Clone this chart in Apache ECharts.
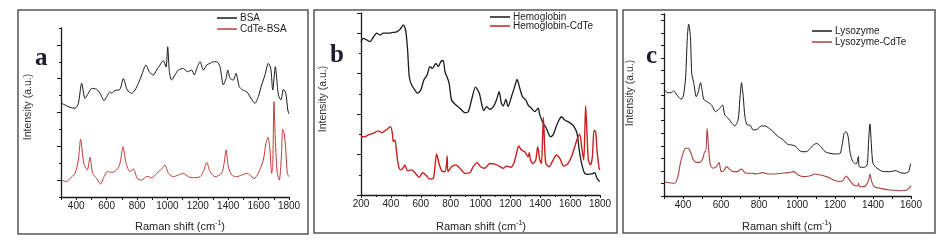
<!DOCTYPE html>
<html>
<head>
<meta charset="utf-8">
<script src="https://cdn.jsdelivr.net/npm/echarts@6/dist/echarts.min.js"></script>
<style>
html,body{margin:0;padding:0;background:#fff;}
#chart{width:944px;height:251px;}
</style>
</head>
<body>
<div id="chart"></div>
<script>
// ---------- Panel a: BSA ----------
const bsaShift = [305,359,392,414,436,458,480,502,535,557,583,601,622,633,655,688,710,736,765,787,809,831,859,881,907,929,951,973,991,1002,1013,1028,1050,1072,1105,1131,1160,1177,1193,1215,1237,1259,1281,1302,1325,1346,1368,1386,1397,1412,1434,1451,1473,1495,1522,1550,1576,1598,1620,1642,1664,1680,1693,1710,1730,1747,1763,1779,1792,1800];
const bsaIntensity = [5.54,5.31,5.25,5.54,6.73,5.84,6.14,6.43,6.37,6.14,5.70,5.94,6.23,6.14,6.30,6.37,7.02,6.33,6.14,6.33,6.73,7.22,7.81,7.41,7.22,7.51,7.81,8.07,7.69,8.89,7.41,6.92,7.22,7.51,7.61,7.41,7.51,7.22,7.61,8.00,7.51,7.81,7.91,8.00,8.00,7.71,6.63,7.02,7.51,7.02,6.92,7.32,6.53,6.33,6.23,5.84,5.54,5.94,6.63,7.22,7.91,7.61,6.33,7.71,6.04,5.74,6.37,6.14,5.15,4.91];
const cdteBsaShift = [305,338,359,392,414,429,450,473,491,508,535,561,583,605,633,666,688,708,728,754,776,802,831,864,897,929,962,984,1006,1039,1072,1105,1138,1171,1215,1241,1259,1281,1314,1357,1373,1386,1401,1423,1456,1489,1522,1544,1570,1598,1631,1648,1662,1675,1686,1693,1701,1710,1723,1736,1750,1758,1769,1780,1789,1800];
const cdteBsaIntensity = [1.00,0.91,1.09,1.40,2.19,3.41,1.99,1.60,2.35,1.40,1.09,0.77,1.20,1.50,1.46,1.60,1.99,2.98,1.99,1.50,1.66,1.09,1.00,1.22,1.14,1.40,1.66,1.89,1.40,1.20,1.30,1.40,1.20,1.14,1.20,1.60,2.05,1.50,1.20,1.40,1.99,2.78,1.79,1.30,1.20,1.30,1.40,1.30,1.09,1.40,2.19,3.17,3.53,2.78,1.40,1.79,5.64,3.37,1.40,1.00,2.40,4.00,3.76,2.60,1.40,1.20];

// ---------- Panel b: Hemoglobin ----------
const hbShift = [200,216,238,260,282,305,327,349,383,416,439,461,483,499,512,523,539,561,579,600,621,643,661,679,701,717,735,750,762,777,790,806,828,862,895,918,940,967,992,1007,1022,1040,1062,1089,1107,1125,1140,1152,1170,1185,1207,1229,1245,1263,1281,1303,1319,1341,1363,1386,1397,1419,1441,1468,1486,1508,1526,1542,1564,1597,1624,1646,1664,1682,1698,1720,1743,1765,1780,1798];
const hbIntensity = [7.58,7.75,7.67,7.58,7.80,8.00,7.91,8.00,8.00,8.04,8.07,8.19,8.41,8.14,7.17,5.85,5.44,5.19,5.03,5.19,5.69,5.93,6.35,6.26,6.51,6.35,6.60,6.65,6.10,5.82,5.52,4.70,4.50,4.29,4.07,4.12,4.70,5.33,5.03,4.53,4.17,4.37,4.24,4.40,4.70,5.11,4.53,4.40,4.73,4.37,4.86,5.36,5.72,5.28,4.86,4.70,4.45,4.29,4.12,4.29,3.96,3.55,3.30,2.88,2.97,3.41,3.71,3.87,3.71,3.58,3.41,3.05,2.06,1.40,1.07,1.02,1.04,1.10,0.82,0.66];
const hbCdteShift = [200,227,249,282,316,338,360,383,398,410,416,427,439,450,465,483,494,512,539,568,590,612,634,661,684,695,706,722,740,762,773,777,782,806,835,862,895,929,951,978,1000,1029,1062,1096,1125,1152,1174,1201,1223,1241,1256,1274,1296,1319,1326,1335,1352,1370,1383,1397,1408,1415,1421,1428,1437,1459,1486,1508,1531,1557,1586,1609,1631,1649,1664,1680,1691,1698,1704,1713,1722,1736,1749,1760,1771,1780,1794,1800];
const hbCdteIntensity = [2.88,2.88,2.97,3.05,3.17,3.08,3.17,3.30,3.38,3.05,2.64,2.72,2.06,1.48,1.24,1.35,1.48,1.20,1.24,1.04,0.87,1.10,0.99,0.79,0.82,1.40,2.03,1.56,1.20,1.15,1.56,1.93,1.15,1.40,1.48,1.32,1.07,1.10,1.40,1.60,1.40,1.32,1.56,1.53,1.43,1.32,1.43,1.37,1.56,2.06,2.42,2.22,2.14,1.89,2.09,1.73,1.56,1.73,2.39,1.73,1.56,2.72,3.84,2.72,1.56,1.40,1.73,1.98,1.81,1.43,1.56,1.89,2.39,2.80,3.01,2.22,1.73,3.05,4.40,3.05,1.73,1.48,1.89,3.21,3.13,2.22,1.32,1.24];

// ---------- Panel c: Lysozyme ----------
const lysShift = [303,321,338,351,368,391,403,414,423,430,439,446,457,470,481,492,502,509,527,550,572,593,608,620,638,655,673,690,699,708,717,726,738,752,769,790,813,831,854,879,901,928,949,972,990,1007,1025,1048,1065,1086,1104,1125,1148,1174,1195,1209,1227,1239,1248,1259,1269,1280,1294,1312,1323,1328,1351,1369,1377,1384,1391,1400,1421,1456,1491,1518,1544,1570,1588,1597,1600];
const lysIntensity = [8.45,8.23,8.23,8.37,8.05,7.70,8.05,9.51,12.7,13.7,12.7,9.77,8.98,7.91,8.31,9.03,8.31,7.70,7.51,7.25,6.72,6.98,7.25,6.45,6.19,5.84,5.58,6.06,7.65,9.03,7.91,6.32,5.66,5.66,5.26,5.31,5.58,5.58,5.39,5.05,4.73,4.46,4.14,4.06,3.98,3.72,3.53,3.53,3.72,4.06,4.19,3.93,3.53,3.40,3.35,3.35,3.40,4.19,4.99,5.12,4.73,3.40,2.74,2.55,3.14,2.34,2.28,2.47,4.46,5.74,4.19,2.60,2.21,1.94,1.94,2.02,1.86,1.81,1.94,2.55,2.60];
const lysCdteShift = [303,329,356,373,386,400,414,426,439,453,470,488,505,514,520,527,534,544,559,576,590,601,615,629,647,664,685,708,731,761,787,819,849,884,919,954,984,1007,1033,1065,1095,1125,1157,1192,1227,1244,1259,1276,1298,1319,1324,1330,1360,1377,1384,1393,1407,1439,1491,1544,1579,1600];
const lysCdteIntensity = [1.14,1.06,1.01,1.54,2.60,3.40,3.80,3.80,3.53,2.92,2.68,2.68,3.00,3.53,3.53,5.39,3.93,2.47,2.21,2.34,2.66,1.94,2.02,2.34,2.12,1.94,1.94,2.15,1.81,1.81,1.75,1.86,1.75,1.75,1.81,1.86,1.94,1.67,1.54,1.59,1.75,1.67,1.54,1.28,1.14,1.28,1.59,1.28,0.88,0.80,1.01,0.74,0.80,1.28,1.75,1.14,0.74,0.61,0.48,0.42,0.48,0.80];

const xTicksA = [400,600,800,1000,1200,1400,1600,1800];
const xTicksB = [200,400,600,800,1000,1200,1400,1600,1800];
const xTicksC = [400,600,800,1000,1200,1400,1600];

const legendA = ['BSA','CdTe-BSA'];
const legendB = ['Hemoglobin','Hemoglobin-CdTe'];
const legendC = ['Lysozyme','Lysozyme-CdTe'];

function zip(xs, ys){ return xs.map((x,i)=>[x, ys[i]]); }

const FONT = 'Liberation Sans, Arial, sans-serif';
const AX = '#1a1a1a';

function xAxisDef(gi, min, max, interval, labelSet, minor){
  return {
    type:'value', gridIndex:gi, min:min, max:max, interval:interval,
    axisLine:{show:true, onZero:false, lineStyle:{color:AX, width:1.3}},
    axisTick:{show:true, length:3, lineStyle:{color:AX, width:1}},
    minorTick:{show:!!minor, splitNumber:2, length:2, lineStyle:{color:AX, width:1}},
    axisLabel:{margin:4, fontSize:10, fontFamily:FONT, color:'#222',
      formatter: v => labelSet.indexOf(v) >= 0 ? String(v) : ''},
    splitLine:{show:false}
  };
}
function yAxisDef(gi, max, interval, majorLen, minorLen, minor){
  return {
    type:'value', gridIndex:gi, min:0, max:max, interval:interval,
    axisLine:{show:true, onZero:false, lineStyle:{color:AX, width:1.3}},
    axisTick:{show:true, length:majorLen, lineStyle:{color:AX, width:1}},
    minorTick:{show:minor, splitNumber:2, length:minorLen, lineStyle:{color:AX, width:1}},
    axisLabel:{show:false},
    splitLine:{show:false}
  };
}
function lineSeries(name, gi, data, color, width){
  return {name:name, type:'line', xAxisIndex:gi, yAxisIndex:gi, data:data,
    symbol:'none', smooth:0.25, lineStyle:{color:color, width:width}, itemStyle:{color:color},
    silent:true, animation:false};
}
function legendDef(names, left, top, gap){
  return {data:names, orient:'vertical', left:left, top:top, itemWidth:20, itemHeight:1.5,
    icon:'rect', itemGap:gap, padding:0,
    textStyle:{fontSize:10, fontFamily:FONT, color:'#222', padding:[0,0,0,-2]}};
}

const titleText = (x, y, text) => ({type:'text', x:x, y:y, style:{text:text, fill:'#222',
  fontSize:11, fontFamily:FONT, align:'center', verticalAlign:'middle', lineHeight:14,
  rich:{sup:{fontSize:7, fontFamily:FONT, fill:'#222', lineHeight:14, verticalAlign:'top', padding:[0,0,6,0]}}}});
const yTitle = (x, y) => ({type:'text', x:x, y:y, rotation:Math.PI/2, style:{text:'Intensity (a.u.)', fill:'#333',
  fontSize:10.5, fontFamily:FONT, align:'center', verticalAlign:'middle'}});
const letter = (x, y, t) => ({type:'text', x:x, y:y, style:{text:t, fill:'#1c1c30',
  fontSize:25, fontWeight:'bold', fontFamily:'Liberation Serif, Times New Roman, serif', align:'left', verticalAlign:'alphabetic'}});
const frame = (x1, y1, x2, y2) => ({type:'rect', shape:{x:x1, y:y1, width:x2-x1, height:y2-y1},
  style:{fill:'none', stroke:'#555', lineWidth:1.5}, silent:true});

const option = {
  backgroundColor:'#fff',
  animation:false,
  grid:[
    {left:61, top:28, width:228, height:169},
    {left:361, top:13, width:239, height:182},
    {left:664, top:14, width:247, height:182}
  ],
  xAxis:[
    xAxisDef(0, 300, 1800, 100, xTicksA, false),
    xAxisDef(1, 200, 1800, 200, xTicksB, true),
    xAxisDef(2, 300, 1600, 100, xTicksC, false)
  ],
  yAxis:[
    yAxisDef(0, 10, 2, 2, 4, true),
    yAxisDef(1, 9, 2, 4, 2, true),
    yAxisDef(2, 14.5, 1, 3, 0, false)
  ],
  legend:[
    legendDef(legendA, 217, 13, 1),
    legendDef(legendB, 490, 12, -1),
    legendDef(legendC, 812, 26, 1)
  ],
  series:[
    lineSeries('BSA', 0, zip(bsaShift, bsaIntensity), '#1a1a1a', 1),
    lineSeries('CdTe-BSA', 0, zip(cdteBsaShift, cdteBsaIntensity), '#c23a3a', 1),
    lineSeries('Hemoglobin', 1, zip(hbShift, hbIntensity), '#1a1a1a', 1.3),
    lineSeries('Hemoglobin-CdTe', 1, zip(hbCdteShift, hbCdteIntensity), '#cc1f1f', 1.4),
    lineSeries('Lysozyme', 2, zip(lysShift, lysIntensity), '#1a1a1a', 1),
    lineSeries('Lysozyme-CdTe', 2, zip(lysCdteShift, lysCdteIntensity), '#a8423f', 1.1)
  ],
  graphic:[
    frame(18, 10, 308, 234),
    frame(314, 10, 617, 233),
    frame(623, 10, 935, 233),
    letter(35, 46, 'a'),
    letter(330, 43, 'b'),
    letter(646, 44, 'c'),
    yTitle(28, 107),
    yTitle(323, 99),
    yTitle(630, 93),
    titleText(180, 227, 'Raman shift (cm{sup|-1})'),
    titleText(481, 227, 'Raman shift (cm{sup|-1})'),
    titleText(787, 227, 'Raman shift (cm{sup|-1})')
  ]
};

const chart = echarts.init(document.getElementById('chart'), null, {renderer:'canvas'});
chart.setOption(option);
</script>
</body>
</html>
